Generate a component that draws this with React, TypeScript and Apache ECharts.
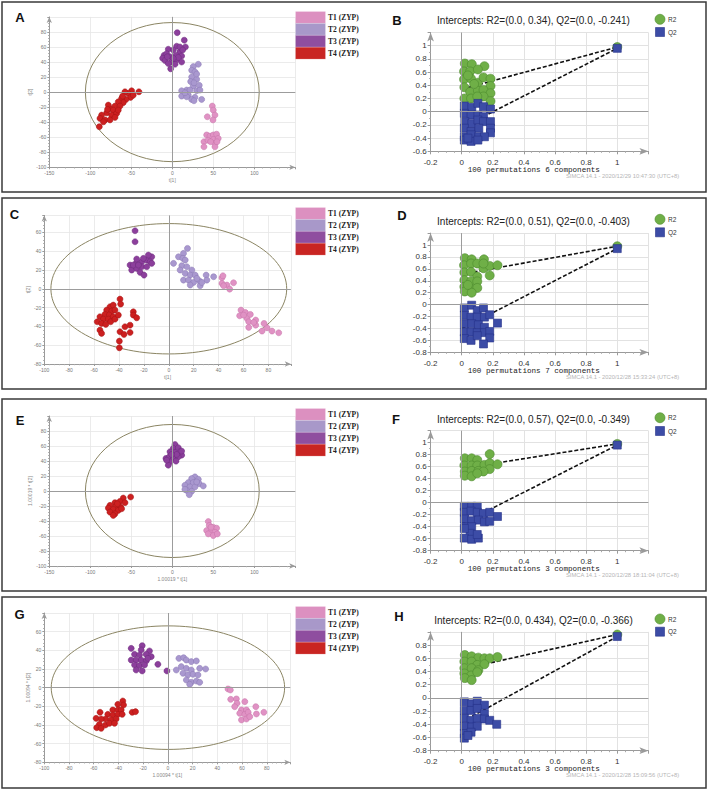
import React, { useEffect, useRef } from "react";
import * as echarts from "echarts";

// ---------- Score plot data (t[1], t[2]) ----------
const groupNames = ["T1 (ZYP)", "T2 (ZYP)", "T3 (ZYP)", "T4 (ZYP)"];

const scoreA_T1 = [[48.8,-18.6],[50,-24],[52,-30.6],[42.7,-32.8],[49.6,-37],[41.9,-57],[45.9,-58.5],[50,-57],[54,-56],[38.6,-66],[43.5,-64],[50,-63],[56,-61.6],[52,-68],[38.6,-72.7],[52,-72.7],[46.7,-66],[54.5,-66]];
const scoreA_T2 = [[31.7,37],[25.6,34],[23.6,29],[27.6,27],[23.6,20],[29.7,17],[22.4,14],[25.6,8],[32.9,9],[17.5,2.7],[11.4,1.8],[21.5,2.7],[29.7,1.8],[11.4,-5.3],[19.5,-4],[27.6,-7],[35.8,-9.8],[23.6,-9.8],[17.5,-6.2],[26.4,-11.5],[15.4,-0.9],[33.7,2.7],[26.4,12.4],[29.7,24]];
const scoreA_T3 = [[6,79],[14.6,69],[5.3,61],[16,60],[-4.9,57],[-10,49],[-6.9,51],[1.2,56],[9.3,54],[-11.8,45],[-2.8,47],[4.5,49],[11.4,48],[-8.9,42],[-0.8,40],[5.3,43],[11.4,40],[-2,31],[3.3,37],[-6,47],[7.3,46],[1.2,45],[-4.9,38],[9.3,60],[12.6,56]];
const scoreA_T4 = [[-40.7,0.4],[-49.6,1.8],[-53.7,-1.8],[-57.7,0.4],[-50.8,-7],[-56.5,-9.8],[-61.8,-8.4],[-59.8,-14],[-65.9,-12.9],[-69.9,-18.6],[-63.8,-18.6],[-76,-21.7],[-78,-17.3],[-72,-24],[-80,-27.5],[-74,-30.6],[-67.9,-28.4],[-86.2,-30.6],[-88.2,-35],[-82,-37],[-76,-37],[-69.9,-33.7],[-89,-46],[-84,-39.5],[-65.9,-24],[-60.6,-5.3],[-47.6,-4],[-79,-23]];

const scoreC_T1 = [[42.7,11.7],[43.5,13.8],[42.7,5.7],[46.7,3.9],[48.9,-0.4],[44,3.2],[52,6.4],[58,-22.7],[56.9,-28.7],[61.5,-25.2],[62.8,-31.6],[65.5,-27.3],[64.2,-35.1],[64.2,-41.1],[69.8,-33.3],[69.8,-38.7],[68.2,-35.8],[74.9,-45],[78.9,-41.5],[82.9,-45],[88.3,-46.8],[76.5,-36.9],[60.1,-28]];
const scoreC_T2 = [[15,42.9],[11.8,37.6],[7.8,34],[3.8,27],[11.3,32.3],[13.2,30.5],[10.5,24.5],[14.5,23.4],[18.5,19.9],[9.1,19.9],[13.2,16.3],[17.2,14.5],[21.2,14.5],[11.8,9.2],[15.8,9.2],[19.9,6.7],[24.7,8.2],[17.2,3.9],[25.2,3.2],[30,14.5],[36,12.8],[30.6,9.2],[26.6,6.7],[22.6,11]];
const scoreC_T3 = [[-27.1,61.7],[-27.1,50],[-31.1,25.2],[-26.3,27],[-21.7,28.7],[-17.7,30.5],[-13.7,34],[-15,28.7],[-29.8,19.9],[-25.8,21.6],[-21.7,23.4],[-17.7,23.4],[-23,17.4],[-19.9,14.5],[-25.8,31.6],[-13.7,27],[-16.4,35.8],[-28.5,25.2],[-20.4,32.3],[-24.4,25.2]];
const scoreC_T4 = [[-39.2,-11],[-38.7,-16.3],[-47.2,-19.1],[-44.6,-17.4],[-49.9,-22.7],[-45.9,-23.8],[-43.2,-22.7],[-51.3,-27.3],[-47.8,-28],[-44.6,-29.8],[-55.3,-29.8],[-52.6,-32.3],[-48.6,-32.3],[-57.5,-35.1],[-54,-36.9],[-50.6,-37.9],[-46.7,-35.1],[-43.2,-32.3],[-55.3,-44],[-54,-47.5],[-35.2,-40.4],[-39.2,-45.7],[-36,-48.6],[-31.1,-46.5],[-31.1,-38.7],[-28.5,-24.5],[-28.5,-28],[-25.8,-30.9],[-39.7,-55.7],[-39.7,-62.8],[-40.5,-28]];

const scoreE_T1 = [[43.9,-40.7],[45.1,-46],[50,-48.3],[54,-49.6],[41.9,-52.7],[48,-52.7],[52,-55],[43.9,-57.2],[50,-59.4],[54.9,-57.2],[47.2,-48.3]];
const scoreE_T2 = [[27.6,18.8],[23.6,16.5],[31.7,15.6],[19.5,11.2],[25.6,11.2],[32.9,9.8],[15.4,7.6],[21.5,5.4],[27.6,5.4],[17.5,0.9],[23.6,-0.4],[20.7,-4.9],[37.8,6.7],[29.7,12.1],[15.4,2.2]];
const scoreE_T3 = [[3.3,62],[1.2,56.8],[7.3,57.7],[-2.8,52.3],[3.3,51.4],[9.3,52.3],[11.4,47.8],[-7.7,43.4],[-3.7,45.6],[1.2,44.2],[7.3,45.6],[-2.8,38.9],[-4.9,34.4],[5.3,48.7],[-0.8,48.7],[11.4,53.2],[-6.9,41.1],[4.5,39.8]];
const scoreE_T4 = [[-50.8,-8],[-59.8,-9.4],[-63.8,-13.9],[-57.7,-15.6],[-69.9,-15.6],[-76,-19.2],[-68.7,-20.1],[-63,-21.5],[-78,-22.8],[-72,-24.6],[-65.9,-25.9],[-76,-28.2],[-69.9,-30.4],[-72,-32.6],[-61.8,-23.7],[-67,-17]];

const scoreG_T1 = [[48.6,-1.4],[50.5,-2.5],[50.8,-12.5],[55.4,-12.1],[55.9,-16.8],[62.2,-15],[54,-20.4],[59.5,-23.9],[63.5,-23.9],[58.1,-27.5],[62.2,-28.6],[64.9,-26.4],[59.5,-34.6],[63.5,-33.6],[71.1,-20.4],[71.6,-28.2],[77.6,-26.4],[66.2,-31.1]];
const scoreG_T2 = [[8.9,31.4],[12.7,32.1],[14.9,29.6],[18.9,27.9],[23,28.6],[6.8,18.9],[10.8,22.5],[14.9,20.7],[18.9,18.9],[25.7,20.7],[30.5,20],[12.2,15.4],[16.2,13.6],[20.3,14.3],[24.3,13.6],[14.9,8.2],[18.9,5.7],[23,7.1],[25.7,5.7],[17.6,3.6]];
const scoreG_T3 = [[-29.7,42.1],[-20.8,45],[-21.6,40.4],[-14.9,39.3],[-27,35.7],[-23,35],[-17.6,35.7],[-13.5,33.2],[-29.7,29.6],[-25.7,29.6],[-21.6,29.6],[-17.6,28.6],[-27,24.3],[-23,23.6],[-18.9,24.3],[-25.7,18.9],[-20.8,17.9],[-8.1,25],[-0.8,17.9],[-16.2,31.4]];
const scoreG_T4 = [[-36.5,-14.3],[-35.9,-18.6],[-40.5,-17.9],[-44.6,-23.9],[-40.5,-23.9],[-37.8,-23.9],[-48.6,-28.6],[-44.6,-29.3],[-40.5,-28.6],[-37,-28.6],[-54.9,-26.4],[-50.5,-33.6],[-46,-34.6],[-41.9,-33.6],[-58.1,-32.9],[-54,-33.6],[-55.4,-39.3],[-57.6,-42.9],[-50.5,-40],[-54,-43.6],[-47.3,-38.2],[-28.9,-26.4],[-26.2,-25.7],[-43.2,-38.2]];

// Hotelling T2 ellipse semi-axes [t1, t2]
const ellipseA = [106, 92.5];
const ellipseC = [94.7, 69.3];
const ellipseE = [106, 88.7];
const ellipseG = [94.4, 66.2];

// ---------- Permutation test data ----------
const permB_R2 = [[0.02,0.73],[0.065,0.72],[0.146,0.69],[0.015,0.61],[0.054,0.61],[0.104,0.64],[0.015,0.49],[0.06,0.5],[0.104,0.44],[0.14,0.52],[0.185,0.5],[0.185,0.39],[0.017,0.37],[0.054,0.3],[0.104,0.32],[0.14,0.33],[0.185,0.28],[0.017,0.2],[0.06,0.2],[0.14,0.23],[0.185,0.16],[0.1,0.23],[0.04,0.55],[0.08,0.42]];
const permB_Q2 = [[0.017,0.086],[0.065,0.066],[0.104,0.126],[0.14,0.076],[0.185,0.04],[0.017,-0.025],[0.06,-0.05],[0.104,-0.05],[0.14,-0.076],[0.02,-0.15],[0.065,-0.18],[0.104,-0.126],[0.14,-0.15],[0.185,-0.15],[0.017,-0.25],[0.06,-0.3],[0.11,-0.25],[0.185,-0.25],[0.185,-0.32],[0.017,-0.38],[0.06,-0.35],[0.11,-0.38],[0.146,-0.38],[0.017,-0.43],[0.06,-0.45],[0.104,-0.43],[0.04,-0.4]];
const permD_R2 = [[0.02,0.78],[0.064,0.76],[0.143,0.76],[0.015,0.66],[0.06,0.69],[0.1,0.69],[0.14,0.61],[0.18,0.65],[0.23,0.66],[0.18,0.49],[0.017,0.54],[0.06,0.55],[0.1,0.47],[0.017,0.41],[0.06,0.39],[0.1,0.39],[0.017,0.3],[0.054,0.27],[0.1,0.28],[0.02,0.22],[0.064,0.2],[0.04,0.33],[0.14,0.69]];
const permD_Q2 = [[0.017,-0.056],[0.064,-0.01],[0.1,-0.1],[0.14,-0.056],[0.017,-0.18],[0.06,-0.21],[0.1,-0.21],[0.146,-0.21],[0.18,-0.17],[0.017,-0.32],[0.064,-0.32],[0.107,-0.34],[0.146,-0.38],[0.23,-0.31],[0.017,-0.46],[0.06,-0.46],[0.1,-0.47],[0.146,-0.47],[0.18,-0.45],[0.017,-0.57],[0.06,-0.6],[0.18,-0.56],[0.14,-0.66],[0.1,-0.52]];
const permF_R2 = [[0.02,0.74],[0.064,0.74],[0.1,0.71],[0.18,0.81],[0.017,0.62],[0.064,0.62],[0.1,0.62],[0.146,0.63],[0.18,0.66],[0.23,0.64],[0.18,0.56],[0.02,0.52],[0.064,0.53],[0.107,0.53],[0.14,0.52],[0.02,0.45],[0.064,0.44],[0.1,0.49]];
const permF_Q2 = [[0.017,-0.06],[0.064,-0.06],[0.1,-0.06],[0.017,-0.16],[0.06,-0.14],[0.1,-0.16],[0.14,-0.18],[0.18,-0.16],[0.23,-0.23],[0.017,-0.27],[0.064,-0.3],[0.107,-0.29],[0.146,-0.32],[0.18,-0.31],[0.02,-0.4],[0.064,-0.4],[0.054,-0.51],[0.017,-0.59],[0.064,-0.61],[0.107,-0.59],[0.1,-0.53],[0.017,-0.43]];
const permH_R2 = [[0.02,0.65],[0.064,0.63],[0.107,0.61],[0.146,0.6],[0.18,0.6],[0.23,0.62],[0.017,0.55],[0.064,0.55],[0.1,0.5],[0.146,0.51],[0.017,0.45],[0.064,0.45],[0.107,0.42],[0.017,0.37],[0.06,0.34],[0.02,0.3],[0.064,0.27],[0.1,0.39]];
const permH_Q2 = [[0.017,-0.06],[0.064,-0.09],[0.1,-0.05],[0.146,-0.11],[0.017,-0.19],[0.06,-0.19],[0.1,-0.16],[0.146,-0.24],[0.017,-0.31],[0.06,-0.34],[0.1,-0.31],[0.146,-0.32],[0.18,-0.34],[0.225,-0.4],[0.017,-0.43],[0.064,-0.44],[0.1,-0.43],[0.017,-0.54],[0.06,-0.52],[0.017,-0.61],[0.04,-0.57]];

// [R2 intercept, Q2 intercept]
const interceptsB = [0.34, -0.241];
const interceptsD = [0.51, -0.403];
const interceptsF = [0.57, -0.349];
const interceptsH = [0.434, -0.366];
// original model [R2, Q2] at x = 1
const originalB = [0.98, 0.96];
const originalD = [0.98, 0.94];
const originalF = [0.98, 0.96];
const originalH = [0.96, 0.93];
const componentsCount = [6, 7, 3, 3];
const simcaStamps = [
  "SIMCA 14.1 - 2020/12/29 10:47:30 (UTC+8)",
  "SIMCA 14.1 - 2020/12/28 15:33:24 (UTC+8)",
  "SIMCA 14.1 - 2020/12/28 18:11:04 (UTC+8)",
  "SIMCA 14.1 - 2020/12/28 15:09:56 (UTC+8)",
];

// ---------- Styling / layout ----------
const groupFill = ["#e092c4", "#a998cf", "#8c3f9c", "#cc2020"];
const groupEdge = ["#c572a6", "#8877b2", "#6b2a7b", "#a21212"];
const legendFill = ["#dc90c0", "#a898c9", "#8f4e9f", "#c92522"];
const R2_FILL = "#6faf47";
const R2_EDGE = "#4b8a2d";
const Q2_FILL = "#3c4ca6";
const Q2_EDGE = "#27338a";

const rows = [
  { top: 2, bottom: 192 },
  { top: 198, bottom: 389 },
  { top: 399, bottom: 591 },
  { top: 597, bottom: 788 },
];

const scorePanels = [
  { letter: "A", lx: 20, ly: 17, grid: { left: 49.3, top: 16.9, width: 246, height: 150.4 }, x: [-150, 150, 50], y: [-100, 100, 20], ell: ellipseA, xName: "t[1]", yName: "t[2]", gap: [10, 12], groups: [scoreA_T1, scoreA_T2, scoreA_T3, scoreA_T4] },
  { letter: "C", lx: 14.5, ly: 214, grid: { left: 44.3, top: 215.4, width: 246.5, height: 148.6 }, x: [-100, 98, 20], y: [-80, 78, 20], ell: ellipseC, xName: "t[1]", yName: "t[2]", gap: [10, 12], groups: [scoreC_T1, scoreC_T2, scoreC_T3, scoreC_T4] },
  { letter: "E", lx: 20, ly: 420, grid: { left: 49.3, top: 416, width: 246, height: 150 }, x: [-150, 150, 50], y: [-100, 100, 20], ell: ellipseE, xName: "1.00019 * t[1]", yName: "1.00019 * t[2]", gap: [10.5, 12], groups: [scoreE_T1, scoreE_T2, scoreE_T3, scoreE_T4] },
  { letter: "G", lx: 19.5, ly: 614, grid: { left: 44.3, top: 613, width: 246, height: 149.3 }, x: [-100, 99, 20], y: [-80, 80, 20], ell: ellipseG, xName: "1.00094 * t[1]", yName: "1.00094 * t[2]", gap: [10.5, 11], groups: [scoreG_T1, scoreG_T2, scoreG_T3, scoreG_T4] },
];

const permPanels = [
  { letter: "B", lx: 397, ly: 20, titleY: 20.7, r2y: 19.3, q2y: 32, permY: 170.3, stampY: 175.7, grid: { left: 430.6, top: 32.5, width: 217.8, height: 118.8 }, y: [-0.6, 1.2], r2: permB_R2, q2: permB_Q2, icpt: interceptsB, orig: originalB },
  { letter: "D", lx: 402, ly: 215, titleY: 221, r2y: 219.3, q2y: 232.3, permY: 370.7, stampY: 376.7, grid: { left: 430.6, top: 233.1, width: 217.8, height: 119.2 }, y: [-0.8, 1.2], r2: permD_R2, q2: permD_Q2, icpt: interceptsD, orig: originalD },
  { letter: "F", lx: 396, ly: 419, titleY: 419, r2y: 417.7, q2y: 431, permY: 569, stampY: 575, grid: { left: 430.6, top: 430.7, width: 217.8, height: 120 }, y: [-0.8, 1.2], r2: permF_R2, q2: permF_Q2, icpt: interceptsF, orig: originalF },
  { letter: "H", lx: 399, ly: 616, titleY: 620, r2y: 619, q2y: 631.7, permY: 769, stampY: 775, grid: { left: 430.6, top: 631.9, width: 217.8, height: 118.8 }, y: [-0.8, 1.0], r2: permH_R2, q2: permH_Q2, icpt: interceptsH, orig: originalH },
];

const fmt = (v: number) => String(parseFloat(v.toFixed(2)));

function buildOption() {
  const grid: any[] = [];
  const xAxis: any[] = [];
  const yAxis: any[] = [];
  const series: any[] = [];
  const graphic: any[] = [];

  rows.forEach((r) => {
    graphic.push({ type: "rect", shape: { x: 2, y: r.top, width: 704, height: r.bottom - r.top }, style: { fill: "none", stroke: "#3a3a3a", lineWidth: 1.5 }, z: 100 });
  });

  scorePanels.forEach((p, i) => {
    const gi = grid.length;
    grid.push(p.grid);
    const axisCommon = {
      gridIndex: gi,
      type: "value",
      axisLine: { show: true, onZero: false, symbol: ["none", "arrow"], symbolSize: [4, 6], lineStyle: { color: "#9a9a9a", width: 1 } },
      axisTick: { show: true, length: 2, lineStyle: { color: "#9a9a9a" } },
      minorTick: { show: true, splitNumber: 5, length: 1.2, lineStyle: { color: "#aaaaaa" } },
      axisLabel: { fontSize: 5, color: "#777", margin: 3, showMaxLabel: false, fontFamily: "Liberation Sans" },
      splitLine: { show: true, lineStyle: { color: "#e6e6e6", width: 0.8 } },
      nameLocation: "middle",
      nameTextStyle: { fontSize: 5, color: "#888", fontFamily: "Liberation Sans" },
    };
    xAxis.push({ ...axisCommon, min: p.x[0], max: p.x[1], interval: p.x[2], name: p.xName, nameGap: p.gap[0] });
    yAxis.push({ ...axisCommon, min: p.y[0], max: p.y[1], interval: p.y[2], name: p.yName, nameGap: p.gap[1] });
    const ell = p.ell;
    series.push({
      type: "custom",
      xAxisIndex: gi,
      yAxisIndex: gi,
      z: 1,
      silent: true,
      data: [[0, 0]],
      renderItem: (params: any, api: any) => {
        const c = api.coord([0, 0]);
        const s = api.size([ell[0], ell[1]]);
        return { type: "ellipse", shape: { cx: c[0], cy: c[1], rx: s[0], ry: s[1] }, style: { fill: "none", stroke: "#8b8563", lineWidth: 1 } };
      },
      markLine: { silent: true, symbol: "none", label: { show: false }, lineStyle: { color: "#9c9c9c", width: 1, type: "solid" }, data: [{ xAxis: 0 }, { yAxis: 0 }] },
    });
    p.groups.forEach((g, k) => {
      series.push({
        type: "scatter",
        xAxisIndex: gi,
        yAxisIndex: gi,
        z: 3,
        symbolSize: 6,
        data: g,
        itemStyle: { color: groupFill[k], borderColor: groupEdge[k], borderWidth: 0.5, opacity: 1 },
      });
    });
    const rt = rows[i].top;
    graphic.push({ type: "text", x: p.lx, y: p.ly, style: { text: p.letter, fill: "#111", fontSize: 13, fontWeight: "bold", fontFamily: "Liberation Sans", align: "center", verticalAlign: "middle" }, z: 50 });
    groupNames.forEach((name, k) => {
      const y0 = rt + 9.5 + k * 11.9;
      graphic.push({ type: "rect", shape: { x: 295.5, y: y0, width: 30, height: 11.9 }, style: { fill: legendFill[k], stroke: "rgba(255,255,255,0.35)", lineWidth: 0.5 }, z: 50 });
      graphic.push({ type: "text", x: 328, y: y0 + 6, style: { text: name, fill: "#222", fontSize: 7.5, fontWeight: "bold", fontFamily: "Liberation Serif", align: "left", verticalAlign: "middle" }, z: 50 });
    });
  });

  permPanels.forEach((p, i) => {
    const gi = grid.length;
    grid.push(p.grid);
    xAxis.push({
      gridIndex: gi, type: "value", min: -0.2, max: 1.2, interval: 0.2,
      axisLine: { show: true, onZero: false, symbol: ["none", "arrow"], symbolSize: [5, 9], lineStyle: { color: "#9a9a9a", width: 1 } },
      axisTick: { show: true, length: 3, lineStyle: { color: "#9a9a9a" } },
      minorTick: { show: true, splitNumber: 4, length: 1.5, lineStyle: { color: "#aaaaaa" } },
      axisLabel: { fontSize: 8, color: "#333", margin: 7, showMaxLabel: false, formatter: fmt, fontFamily: "Liberation Sans" },
      splitLine: { show: true, lineStyle: { color: "#e2e2e2", width: 1 } },
    });
    yAxis.push({
      gridIndex: gi, type: "value", min: p.y[0], max: p.y[1], interval: 0.2,
      axisLine: { show: true, onZero: false, symbol: ["none", "arrow"], symbolSize: [5, 9], lineStyle: { color: "#9a9a9a", width: 1 } },
      axisTick: { show: true, length: 3, lineStyle: { color: "#9a9a9a" } },
      minorTick: { show: true, splitNumber: 2, length: 1.5, lineStyle: { color: "#aaaaaa" } },
      axisLabel: { fontSize: 8, color: "#333", margin: 4, showMaxLabel: false, formatter: fmt, fontFamily: "Liberation Sans" },
      splitLine: { show: true, lineStyle: { color: "#e2e2e2", width: 1 } },
    });
    series.push({
      type: "line", xAxisIndex: gi, yAxisIndex: gi, z: 2, symbol: "none", silent: true,
      data: [[0, p.icpt[0]], [1, p.orig[0]]],
      lineStyle: { type: [4, 2], color: "#111", width: 1.6 },
      markLine: { silent: true, symbol: "none", label: { show: false }, lineStyle: { color: "#9c9c9c", width: 1, type: "solid" }, data: [{ xAxis: 0 }, { yAxis: 0 }] },
    });
    series.push({
      type: "line", xAxisIndex: gi, yAxisIndex: gi, z: 2, symbol: "none", silent: true,
      data: [[0, p.icpt[1]], [1, p.orig[1]]],
      lineStyle: { type: [4, 2], color: "#111", width: 1.6 },
    });
    series.push({
      type: "scatter", xAxisIndex: gi, yAxisIndex: gi, z: 3, symbol: "circle", symbolSize: 9,
      data: [...p.r2, [1, p.orig[0]]],
      itemStyle: { color: R2_FILL, borderColor: R2_EDGE, borderWidth: 0.6, opacity: 1 },
    });
    series.push({
      type: "scatter", xAxisIndex: gi, yAxisIndex: gi, z: 4, symbol: "rect", symbolSize: 8,
      data: [...p.q2, [1, p.orig[1]]],
      itemStyle: { color: Q2_FILL, borderColor: Q2_EDGE, borderWidth: 0.6, opacity: 1 },
    });
    const title = `Intercepts: R2=(0.0, ${p.icpt[0]}), Q2=(0.0, ${p.icpt[1]})`;
    graphic.push({ type: "text", x: p.lx, y: p.ly, style: { text: p.letter, fill: "#111", fontSize: 13, fontWeight: "bold", fontFamily: "Liberation Sans", align: "center", verticalAlign: "middle" }, z: 50 });
    graphic.push({ type: "text", x: 533.5, y: p.titleY, style: { text: title, fill: "#222", fontSize: 10, fontFamily: "Liberation Sans", align: "center", verticalAlign: "middle" }, z: 50 });
    graphic.push({ type: "circle", shape: { cx: 660, cy: p.r2y, r: 5 }, style: { fill: R2_FILL, stroke: R2_EDGE, lineWidth: 0.6 }, z: 50 });
    graphic.push({ type: "rect", shape: { x: 655.5, y: p.q2y - 4.5, width: 9, height: 9 }, style: { fill: Q2_FILL, stroke: Q2_EDGE, lineWidth: 0.6 }, z: 50 });
    graphic.push({ type: "text", x: 668, y: p.r2y, style: { text: "R2", fill: "#333", fontSize: 6.5, fontFamily: "Liberation Sans", align: "left", verticalAlign: "middle" }, z: 50 });
    graphic.push({ type: "text", x: 668, y: p.q2y, style: { text: "Q2", fill: "#333", fontSize: 6.5, fontFamily: "Liberation Sans", align: "left", verticalAlign: "middle" }, z: 50 });
    graphic.push({ type: "text", x: 533.8, y: p.permY, style: { text: `100 permutations ${componentsCount[i]} components`, fill: "#222", fontSize: 7.6, fontFamily: "Liberation Mono", align: "center", verticalAlign: "middle" }, z: 50 });
    graphic.push({ type: "text", x: 566, y: p.stampY, style: { text: simcaStamps[i], fill: "#b5b5b5", fontSize: 5.8, fontFamily: "Liberation Sans", align: "left", verticalAlign: "middle" }, z: 50 });
  });

  return { animation: false, backgroundColor: "#ffffff", grid, xAxis, yAxis, series, graphic };
}

export default function App() {
  const ref = useRef<HTMLDivElement>(null);
  useEffect(() => {
    document.body.style.margin = "0";
    if (!ref.current) return;
    const chart = echarts.init(ref.current, undefined, { renderer: "svg" });
    chart.setOption(buildOption() as any);
    return () => chart.dispose();
  }, []);
  return <div ref={ref} style={{ width: 708, height: 790 }} />;
}
